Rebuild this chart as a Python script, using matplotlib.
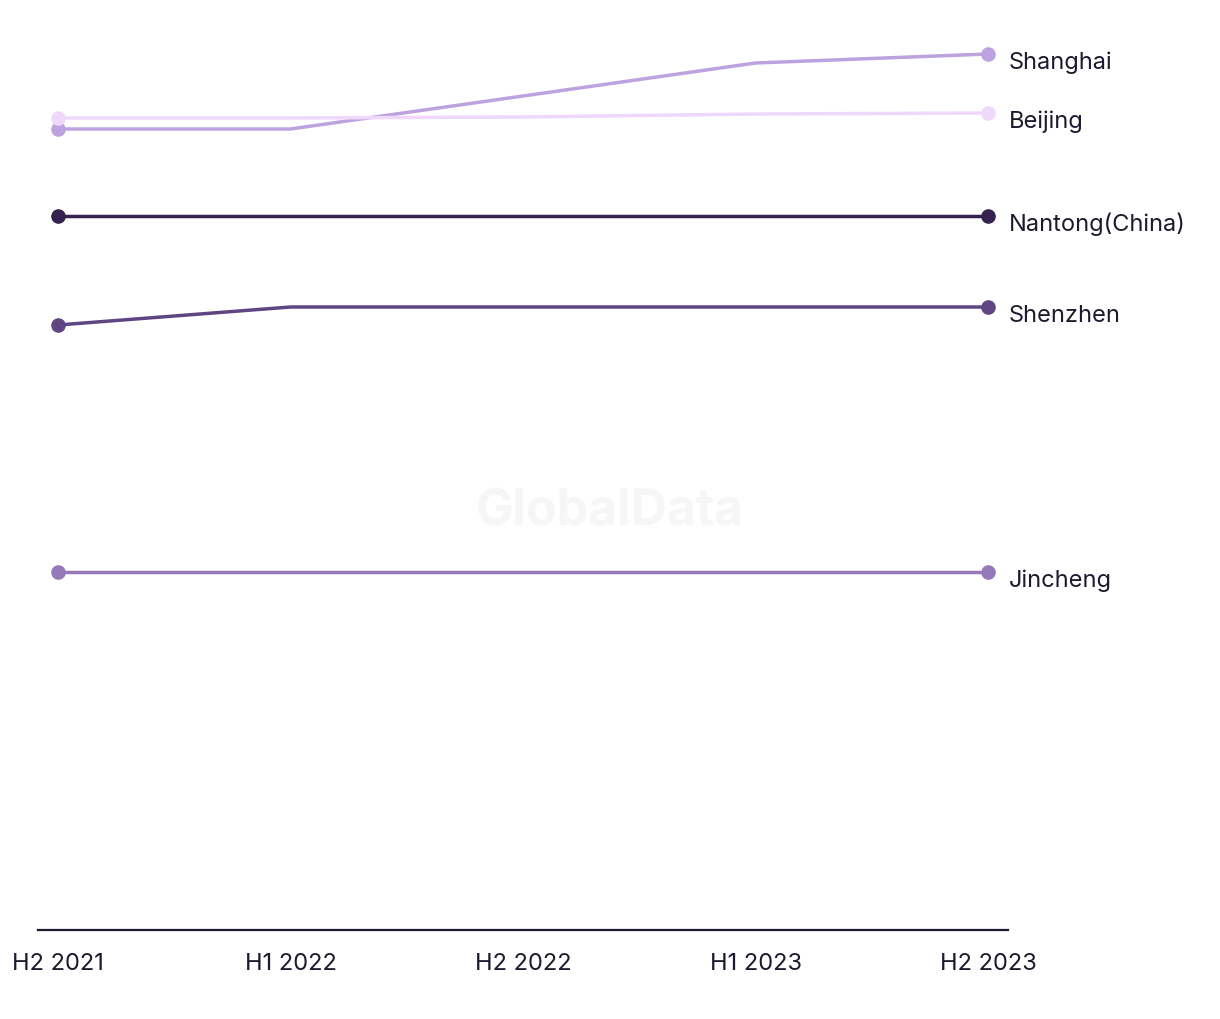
import matplotlib.pyplot as plt

# periods and series
periods = ["H2 2021", "H1 2022", "H2 2022", "H1 2023", "H2 2023"]
cities = ["Shanghai", "Beijing", "Nantong(China)", "Shenzhen", "Jincheng"]
shanghai = [80.1, 80.1, 83.4, 86.7, 87.6]
beijing = [81.2, 81.2, 81.3, 81.6, 81.7]
nantong = [71.4, 71.4, 71.4, 71.4, 71.4]
shenzhen = [60.5, 62.3, 62.3, 62.3, 62.3]
jincheng = [35.8, 35.8, 35.8, 35.8, 35.8]
colors = ["#bca3e0", "#f0d8fc", "#35224f", "#5f4683", "#9579b9"]

plt.rcParams["font.family"] = ["Inter", "DejaVu Sans"]
text_color = "#1b1a2e"

fig = plt.figure(figsize=(12.2, 10.2), dpi=100)
ax = fig.add_axes([38 / 1220, 89 / 1020, 970 / 1220, 930 / 1020])

# watermark
fig.text(0.5, 1 - 512 / 1020, "GlobalData", fontsize=36, fontweight="bold",
         color="#f6f6f6", ha="center", va="center", zorder=0)

x = list(range(len(periods)))
series = [shanghai, beijing, nantong, shenzhen, jincheng]
for name, vals, c in zip(cities, series, colors):
    ax.plot(x, vals, color=c, lw=2.5, marker="o", markersize=9.5,
            markevery=[0, len(vals) - 1], solid_capstyle="butt")
    ax.annotate(name, (x[-1], vals[-1]), xytext=(15, -5.5), textcoords="offset points",
                ha="left", va="center", fontsize=17, color=text_color,
                annotation_clip=False)

ax.set_xlim(-0.086, 4.086)
ax.set_ylim(0, 93)
ax.set_xticks(x)
ax.set_xticklabels(periods, fontsize=17, color=text_color)
ax.tick_params(axis="x", length=0, pad=16)
ax.set_yticks([])
for s in ["top", "left", "right"]:
    ax.spines[s].set_visible(False)
ax.spines["bottom"].set_color(text_color)
ax.spines["bottom"].set_linewidth(1.6)
ax.patch.set_alpha(0)

fig.savefig("out.png", dpi=100)
